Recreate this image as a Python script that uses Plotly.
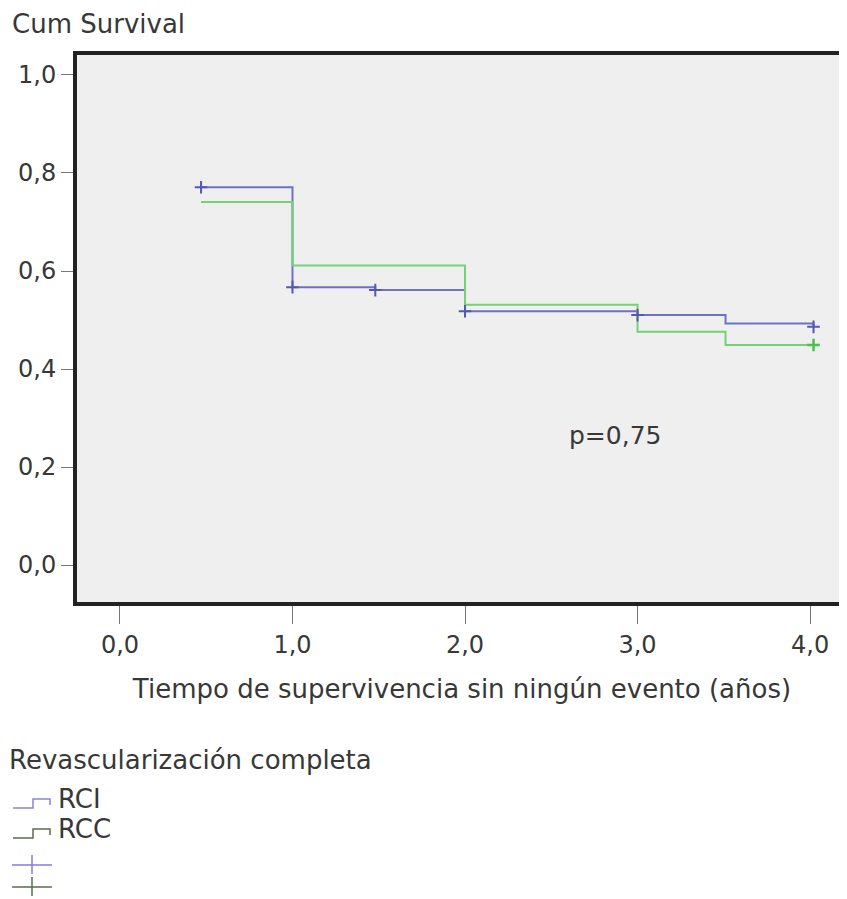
import plotly.graph_objects as go

# Data
rci_time = [0.47, 1.0, 1.48, 2.0, 3.0, 3.51, 4.02]
rci_surv = [0.771, 0.567, 0.561, 0.518, 0.510, 0.493, 0.486]
rcc_time = [0.47, 1.0, 2.0, 3.0, 3.51, 4.02]
rcc_surv = [0.741, 0.611, 0.531, 0.476, 0.449, 0.449]
rci_cens_time = [0.47, 1.0, 1.48, 2.0, 3.0, 4.02]
rci_cens_surv = [0.771, 0.567, 0.561, 0.518, 0.510, 0.486]
rcc_cens_time = [4.02]
rcc_cens_surv = [0.449]
x_ticks = [0, 1, 2, 3, 4]
x_tick_labels = ["0,0", "1,0", "2,0", "3,0", "4,0"]
y_ticks = [0, 0.2, 0.4, 0.6, 0.8, 1.0]
y_tick_labels = ["0,0", "0,2", "0,4", "0,6", "0,8", "1,0"]
group_labels = ["RCI", "RCC"]
p_text = "p=0,75"

BLUE = "#6f72c4"
GREEN = "#74d274"
FONT = "DejaVu Sans"
TXT = "#383838"
FS = 24
FS_T = 26

fig = go.Figure()
fig.add_trace(go.Scatter(x=rci_time, y=rci_surv, mode="lines", line=dict(shape="hv", color=BLUE, width=2), showlegend=False))
fig.add_trace(go.Scatter(x=rcc_time, y=rcc_surv, mode="lines", line=dict(shape="hv", color=GREEN, width=2), showlegend=False))
fig.add_trace(go.Scatter(x=rci_cens_time, y=rci_cens_surv, mode="markers",
                         marker=dict(symbol="cross-thin-open", size=9, color="#5458b0", line=dict(color="#5458b0", width=2)), showlegend=False))
fig.add_trace(go.Scatter(x=rcc_cens_time, y=rcc_cens_surv, mode="markers",
                         marker=dict(symbol="cross-thin-open", size=9, color="#4cc04c", line=dict(color="#4cc04c", width=2.5)), showlegend=False))

fig.add_annotation(x=2.87, y=0.265, text=p_text, showarrow=False, xref="x", yref="y",
                   font=dict(family=FONT, size=25, color=TXT))

# page-pixel -> paper coordinates (plot area spans page x 77..847, y 55..602)
def px(x):
    return (x - 77) / 770
def py(y):
    return (602 - y) / 547

# Y axis title
fig.add_annotation(x=px(10), y=py(24), xref="paper", yref="paper", text="Cum Survival", showarrow=False,
                   xanchor="left", yanchor="middle", font=dict(family=FONT, size=FS_T, color=TXT))

# Legend
fig.add_annotation(x=px(7), y=py(760), xref="paper", yref="paper", text="Revascularización completa", showarrow=False,
                   xanchor="left", yanchor="middle", font=dict(family=FONT, size=FS_T, color=TXT))
legend_rows = [(799, "#8686da", group_labels[0]), (829, "#5d6b50", group_labels[1])]
for yy, col, lab in legend_rows:
    path = f"M {px(13)} {py(yy+9)} L {px(33)} {py(yy+9)} L {px(33)} {py(yy)} L {px(50)} {py(yy)} L {px(50)} {py(yy+6)}"
    fig.add_shape(type="path", path=path, xref="paper", yref="paper", line=dict(color=col, width=1.5))
    fig.add_annotation(x=px(56), y=py(yy), xref="paper", yref="paper", text=lab, showarrow=False,
                       xanchor="left", yanchor="middle", font=dict(family=FONT, size=FS_T, color=TXT))
for yy, col in [(865, "#7c7ce0"), (887, "#55704a")]:
    fig.add_shape(type="line", x0=px(12), x1=px(52), y0=py(yy), y1=py(yy), xref="paper", yref="paper", line=dict(color=col, width=1.5))
    fig.add_shape(type="line", x0=px(32), x1=px(32), y0=py(yy-10), y1=py(yy+9), xref="paper", yref="paper", line=dict(color=col, width=1.5))

fig.update_layout(
    width=839, height=891,
    margin=dict(l=69, r=0, t=47, b=297),
    paper_bgcolor="white", plot_bgcolor="#efefef",
    font=dict(family=FONT, size=FS, color=TXT),
    xaxis=dict(range=[-0.249, 4.214], tickvals=x_ticks, ticktext=x_tick_labels, showgrid=False, zeroline=False,
               showline=True, linecolor="#222222", linewidth=4, mirror=True,
               ticks="outside", ticklen=18, tickwidth=1, tickcolor="#777777",
               tickfont=dict(family=FONT, size=FS, color=TXT),
               title=dict(text="Tiempo de supervivencia sin ningún evento (años)", font=dict(family=FONT, size=FS_T, color=TXT), standoff=23)),
    yaxis=dict(range=[-0.0755, 1.0408], tickvals=y_ticks, ticktext=y_tick_labels, showgrid=False, zeroline=False,
               showline=True, linecolor="#222222", linewidth=4, mirror=False,
               ticks="outside", ticklen=12, tickwidth=1, tickcolor="#777777",
               tickfont=dict(family=FONT, size=FS, color=TXT)),
)

fig.write_html("out.html")
